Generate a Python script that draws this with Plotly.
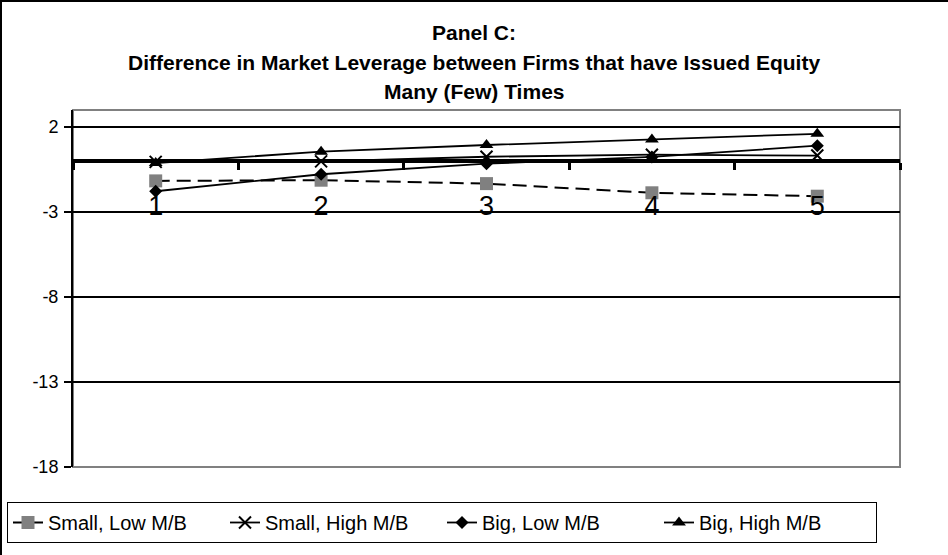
import plotly.graph_objects as go

categories = ["1", "2", "3", "4", "5"]
small_low = [-1.17, -1.13, -1.33, -1.87, -2.07]
small_high = [-0.05, -0.02, 0.25, 0.37, 0.32]
big_low = [-1.78, -0.78, -0.16, 0.24, 0.9]
big_high = [-0.12, 0.55, 0.94, 1.27, 1.6]
y_ticks = [2, -3, -8, -13, -18]
title_lines = ["Panel C:",
               "Difference in Market Leverage between Firms that have Issued Equity",
               "Many (Few) Times"]

W, H = 948, 555
L, R, T, B = 73, 48, 110, 88
pw, ph = W - L - R, H - T - B

fig = go.Figure()
fig.add_trace(go.Scatter(x=categories, y=small_low, name="Small, Low M/B", mode="lines+markers",
                         line=dict(color="black", width=2, dash="14px,7px"),
                         marker=dict(symbol="square", size=13, color="#808080")))
fig.add_trace(go.Scatter(x=categories, y=small_high, name="Small, High M/B", mode="lines+markers",
                         line=dict(color="black", width=1.8),
                         marker=dict(symbol="x-thin", size=12, line=dict(color="black", width=2))))
fig.add_trace(go.Scatter(x=categories, y=big_low, name="Big, Low M/B", mode="lines+markers",
                         line=dict(color="black", width=1.8),
                         marker=dict(symbol="diamond", size=10, color="black")))
fig.add_trace(go.Scatter(x=categories, y=big_high, name="Big, High M/B", mode="lines+markers",
                         line=dict(color="black", width=1.8),
                         marker=dict(symbol="triangle-up", size=12, color="black")))

font = "Liberation Sans, Arial, sans-serif"
annotations = []
for i, line in enumerate(title_lines):
    yc = 32 + 30 * i
    annotations.append(dict(text="<b>" + line + "</b>", xref="paper", yref="paper",
                            x=(W / 2 - L) / pw, y=(T + ph - yc) / ph, xanchor="center",
                            yanchor="middle", showarrow=False,
                            font=dict(size=21, family=font, color="black")))

fig.update_layout(
    width=W, height=H,
    margin=dict(l=L, r=R, t=T, b=B, autoexpand=False),
    paper_bgcolor="white", plot_bgcolor="white",
    font=dict(family=font, color="black"),
    annotations=annotations,
    xaxis=dict(type="category", range=[-0.5, 4.5], anchor="free", position=18 / 21,
               showline=True, linecolor="black", linewidth=4, tickson="boundaries",
               ticks="outside", ticklen=7, tickwidth=3, tickcolor="black",
               tickfont=dict(size=27), ticklabelstandoff=20, showgrid=False, zeroline=False),
    yaxis=dict(range=[-18, 3], tickvals=y_ticks, ticktext=[str(v) for v in y_ticks],
               showline=True, linecolor="black", linewidth=2, ticks="outside", ticklen=7,
               tickwidth=2, tickcolor="black", showgrid=True, gridcolor="black", gridwidth=2,
               zeroline=False, tickfont=dict(size=18), ticklabelstandoff=2),
    legend=dict(orientation="h", x=(7 - L) / pw, y=(T + ph - 502) / ph, xanchor="left", yanchor="top",
                bordercolor="black", borderwidth=1, font=dict(size=20),
                entrywidth=172, entrywidthmode="pixels", tracegroupgap=0),
    shapes=[
        dict(type="rect", xref="paper", yref="paper", x0=0, x1=1, y0=0, y1=1,
             line=dict(color="#808080", width=2), layer="between"),
        dict(type="rect", xref="paper", yref="paper", x0=(1 - L) / pw, x1=(W + 20 - L) / pw,
             y0=-(H + 20 - T - ph) / ph, y1=1 + (T - 1) / ph,
             line=dict(color="black", width=2)),
    ],
)
fig.write_html("out.html", config={"displayModeBar": False},
               post_script="document.body.style.margin='0px';")
